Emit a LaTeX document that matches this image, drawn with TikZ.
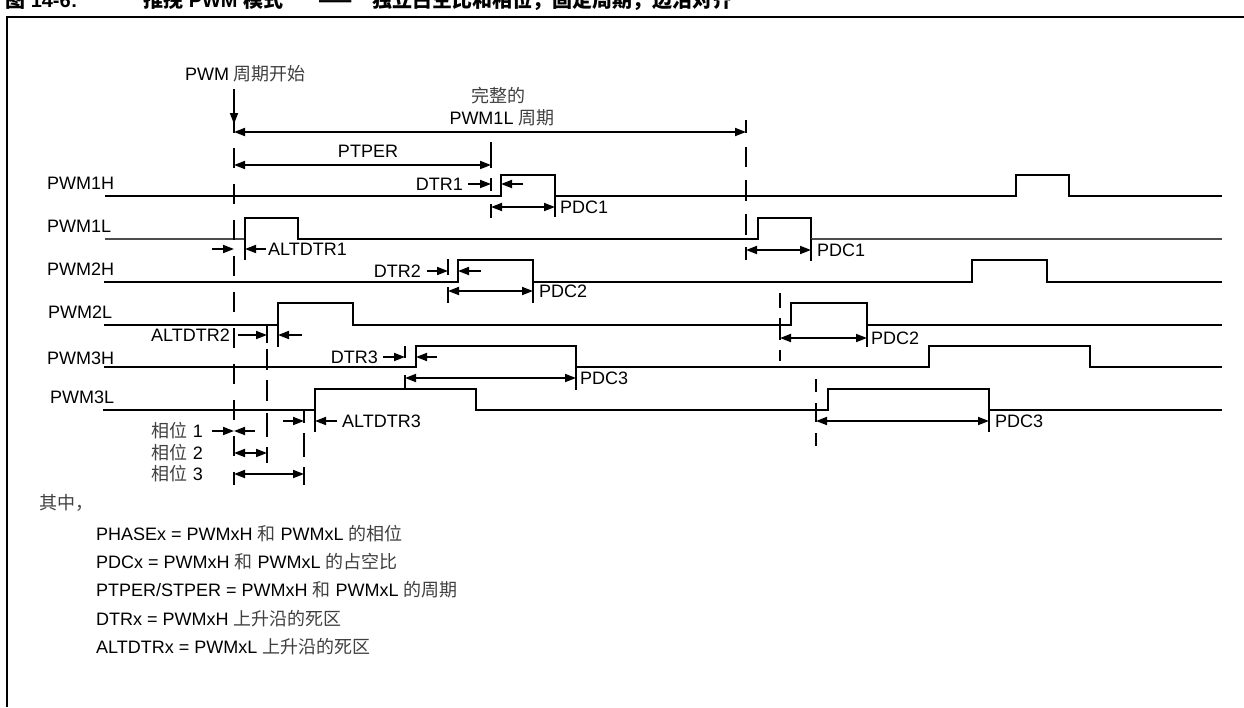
\documentclass[tikz,border=0pt]{standalone}
\usepackage{fontspec}
\setmainfont{Liberation Sans}
\newfontfamily\cjk{Noto Sans CJK SC}
\usetikzlibrary{arrows.meta}
\newcommand{\zh}[1]{{\cjk\color{black!75}#1}}
\tikzset{
  sig/.style={line width=1.8pt, line join=miter},
  ln/.style={line width=1.8pt},
  one/.style={line width=1.8pt, -{Triangle[length=11pt,width=8pt]}},
  two/.style={line width=1.8pt, {Triangle[length=11pt,width=8pt]}-{Triangle[length=11pt,width=8pt]}},
  dsh/.style={line width=1.8pt, dash pattern=on 20pt off 16pt},
  lbl/.style={font=\fontsize{18}{21}\selectfont, inner sep=0pt},
  ttl/.style={font=\fontsize{20}{24}\selectfont\bfseries, inner sep=0pt, anchor=base west},
}
\begin{document}
\begin{tikzpicture}[x=1pt,y=-1pt]
\useasboundingbox (0,0) rectangle (1244,707);
% title (cut at the top edge, as in the reference)
\node[ttl] (t1) at (5,7) {{\cjk 图} 14-6:};
\node[ttl] (t2) at (143,7) {{\cjk 推挽} PWM {\cjk 模式}};
\node[ttl] (t3) at (318,7) {{\cjk ——}};
\node[ttl] (t4) at (372,7) {{\cjk 独立占空比和相位，固定周期，边沿对齐}};
% frame
\draw[line width=2pt] (7,707) -- (7,17) -- (1244,17);

% signal labels
\node[lbl, anchor=base west] (n1h) at (47,189) {PWM1H};
\node[lbl, anchor=base west] (n1l) at (47,232) {PWM1L};
\node[lbl, anchor=base west] (n2h) at (47,275) {PWM2H};
\node[lbl, anchor=base west] (n2l) at (48,318) {PWM2L};
\node[lbl, anchor=base west] (n3h) at (47,364) {PWM3H};
\node[lbl, anchor=base west] (n3l) at (50,403) {PWM3L};

% signals
\draw[sig] (105,196) -- (501,196) -- (501,175) -- (555,175) -- (555,196) -- (1016,196) -- (1016,175) -- (1069,175) -- (1069,196) -- (1222,196);
\draw[line width=1.2pt, black!70] (105,239) -- (245,239);
\draw[sig] (245,239) -- (245,218) -- (298,218) -- (298,239) -- (758,239) -- (758,218) -- (811,218) -- (811,239);
\draw[line width=1.2pt, black!70] (811,239) -- (1222,239);
\draw[sig] (104,282) -- (458,282) -- (458,260) -- (533,260) -- (533,282) -- (972,282) -- (972,260) -- (1047,260) -- (1047,282) -- (1222,282);
\draw[sig] (104,325) -- (278,325) -- (278,303) -- (353,303) -- (353,325) -- (791,325) -- (791,303) -- (867,303) -- (867,325) -- (1222,325);
\draw[sig] (104,367) -- (416,367) -- (416,346) -- (576,346) -- (576,367) -- (929,367) -- (929,346) -- (1090,346) -- (1090,367) -- (1222,367);
\draw[sig] (103,410) -- (315,410) -- (315,389) -- (476,389) -- (476,410) -- (828,410) -- (828,389) -- (989,389) -- (989,410) -- (1222,410);

% period start
\node[lbl] (start) at (245.5,74) {PWM \zh{周期开始}};
\coordinate (s0) at (234,89);
\coordinate (s1) at (234,124);
\draw[one] (s0) -- (s1);
\draw[ln] (234,122) -- (234,133);
\draw[dsh] (234,148) -- (234,485);

% complete period
\node[lbl] (cp1) at (498,96) {\zh{完整的}};
\node[lbl] (cp2) at (502,118) {PWM1L \zh{周期}};
\coordinate (p0) at (234,132);
\coordinate (p1) at (746,132);
\draw[two] (p0) -- (p1);
\draw[ln] (746,120) -- (746,133);
\foreach \a/\b in {147/167,180/201,214/235,247/260}
  \draw[ln] (746,\a) -- (746,\b);

% PTPER
\node[lbl] (ptper) at (368,151) {PTPER};
\coordinate (q0) at (234,165);
\coordinate (q1) at (491,165);
\draw[two] (q0) -- (q1);
\foreach \a/\b in {142/168,178/191,204/218}
  \draw[ln] (491,\a) -- (491,\b);

% DTR1 / PDC1
\node[lbl, anchor=east] (dtr1) at (463,184) {DTR1};
\draw[one] (468,184) -- (491,184);
\draw[one] (523,184) -- (501,184);
\draw[two] (491,207) -- (555,207);
\draw[ln] (555,196) -- (555,217);
\node[lbl, anchor=west] (pdc1) at (560,207) {PDC1};

% ALTDTR1
\draw[one] (212,249) -- (234,249);
\draw[one] (266,249) -- (245,249);
\draw[ln] (245,239) -- (245,260);
\node[lbl, anchor=west] (alt1) at (268,249) {ALTDTR1};

% DTR2 / PDC2
\node[lbl, anchor=east] (dtr2) at (421,271) {DTR2};
\draw[one] (427,271) -- (448,271);
\draw[ln] (448,259) -- (448,275);
\draw[one] (481,271) -- (458,271);
\draw[two] (448,291) -- (533,291);
\draw[ln] (448,287) -- (448,303);
\draw[ln] (533,282) -- (533,303);
\node[lbl, anchor=west] (pdc2) at (539,291) {PDC2};

% ALTDTR2
\node[lbl, anchor=east] (alt2) at (230,335) {ALTDTR2};
\draw[one] (238,335) -- (267,335);
\draw[one] (302,335) -- (278,335);
\draw[ln] (278,325) -- (278,347);
\foreach \a/\b in {325/343,349/370,380/401,413/437,447/463}
  \draw[ln] (267,\a) -- (267,\b);

% DTR3 / PDC3
\node[lbl, anchor=east] (dtr3) at (378,357) {DTR3};
\draw[one] (383,357) -- (405,357);
\draw[ln] (405,346) -- (405,358);
\draw[one] (437,357) -- (416,357);
\draw[two] (405,378) -- (576,378);
\draw[ln] (405,375) -- (405,389);
\draw[ln] (576,367) -- (576,390);
\node[lbl, anchor=west] (pdc3) at (580,378) {PDC3};

% ALTDTR3
\draw[one] (283,421) -- (304,421);
\draw[one] (337,421) -- (315,421);
\draw[ln] (315,410) -- (315,432);
\node[lbl, anchor=west] (alt3) at (342,421) {ALTDTR3};
\foreach \a/\b in {410/423,433/457,467/485}
  \draw[ln] (304,\a) -- (304,\b);

% phases
\node[lbl, anchor=east] (ph1) at (203,431) {\zh{相位} 1};
\draw[one] (212,431) -- (234,431);
\draw[one] (255,431) -- (234,431);
\node[lbl, anchor=east] (ph2) at (203,453) {\zh{相位} 2};
\draw[two] (234,453) -- (267,453);
\node[lbl, anchor=east] (ph3) at (203,474) {\zh{相位} 3};
\draw[two] (234,474) -- (304,474);

% second period
\draw[two] (746,250) -- (811,250);
\draw[ln] (811,239) -- (811,261);
\node[lbl, anchor=west] (pdc1b) at (817,250) {PDC1};
\foreach \a/\b in {293/308,318/340,350/361}
  \draw[ln] (780,\a) -- (780,\b);
\draw[two] (780,338) -- (867,338);
\draw[ln] (867,325) -- (867,347);
\node[lbl, anchor=west] (pdc2b) at (871,338) {PDC2};
\foreach \a/\b in {379/392,403/422,433/446}
  \draw[ln] (816,\a) -- (816,\b);
\draw[two] (816,421) -- (989,421);
\draw[ln] (989,410) -- (989,432);
\node[lbl, anchor=west] (pdc3b) at (995,421) {PDC3};

% legend
\node[lbl, anchor=west] (where) at (39,503) {\zh{其中，}};
\node[lbl, anchor=west] (lg1) at (96,534) {PHASEx = PWMxH \zh{和} PWMxL \zh{的相位}};
\node[lbl, anchor=west] (lg2) at (96,562) {PDCx = PWMxH \zh{和} PWMxL \zh{的占空比}};
\node[lbl, anchor=west] (lg3) at (96,590) {PTPER/STPER = PWMxH \zh{和} PWMxL \zh{的周期}};
\node[lbl, anchor=west] (lg4) at (96,619) {DTRx = PWMxH \zh{上升沿的死区}};
\node[lbl, anchor=west] (lg5) at (96,647) {ALTDTRx = PWMxL \zh{上升沿的死区}};
\end{tikzpicture}
\end{document}
